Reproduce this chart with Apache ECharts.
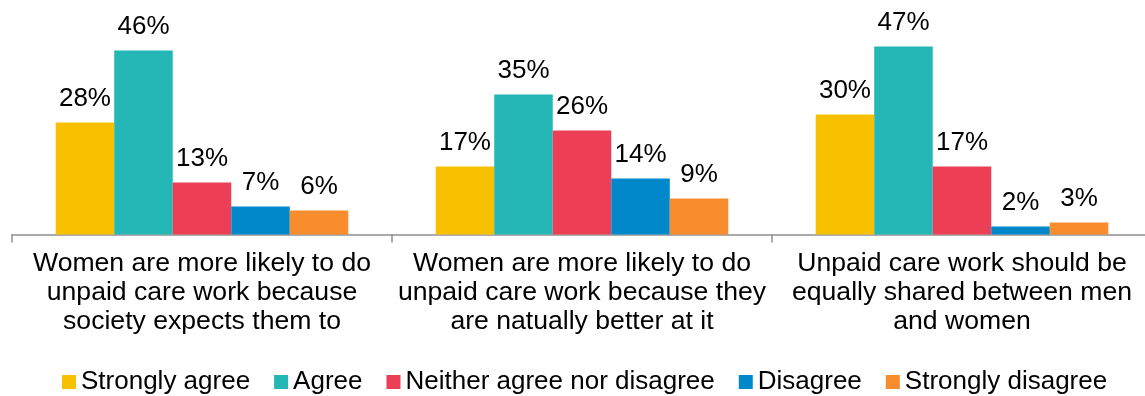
<!DOCTYPE html>
<html>
<head>
<meta charset="utf-8">
<script src="https://cdn.jsdelivr.net/npm/echarts@6/dist/echarts.min.js"></script>
<style>
  html, body { margin: 0; padding: 0; background: #ffffff; overflow: hidden; }
  #chart { width: 1152px; height: 396px; }
</style>
</head>
<body>
<div id="chart"></div>
<script>
// Survey statements (category axis)
const categories = [
  'Women are more likely to do\nunpaid care work because\nsociety expects them to',
  'Women are more likely to do\nunpaid care work because they\nare natually better at it',
  'Unpaid care work should be\nequally shared between men\nand women'
];

// Response shares, percent
const stronglyAgree    = [28, 17, 30];
const agree            = [46, 35, 47];
const neither          = [13, 26, 17];
const disagree         = [7, 14, 2];
const stronglyDisagree = [6, 9, 3];

const seriesNames = ['Strongly agree', 'Agree', 'Neither agree nor disagree', 'Disagree', 'Strongly disagree'];
const seriesData = [stronglyAgree, agree, neither, disagree, stronglyDisagree];
const seriesColors = ['#F8C100', '#25B7B6', '#EC3E55', '#0088CB', '#F88D2E'];

const FONT = '"Liberation Sans", Arial, sans-serif';

const chart = echarts.init(document.getElementById('chart'), null, { renderer: 'canvas' });

chart.setOption({
  animation: false,
  backgroundColor: '#ffffff',
  textStyle: { fontFamily: FONT },
  legend: {
    left: 62,
    top: 369,
    padding: 0,
    itemWidth: 14,
    itemHeight: 14,
    itemGap: 24,
    icon: 'rect',
    textStyle: { fontFamily: FONT, fontSize: 26, color: '#000000' },
    data: seriesNames
  },
  grid: {
    left: 12,
    top: 34.5,
    width: 1140,
    height: 200,
    containLabel: false
  },
  xAxis: {
    type: 'category',
    data: categories,
    axisLine: { show: true, lineStyle: { color: '#8E8E8E', width: 1.5 } },
    axisTick: { show: true, length: 8, lineStyle: { color: '#8E8E8E', width: 1.5 } },
    axisLabel: {
      interval: 0,
      margin: 15,
      fontFamily: FONT,
      fontSize: 26.6,
      lineHeight: 29,
      color: '#000000',
      align: 'center'
    },
    splitLine: { show: false }
  },
  yAxis: {
    type: 'value',
    min: 0,
    max: 50,
    show: false,
    splitLine: { show: false }
  },
  series: seriesNames.map((name, i) => ({
    name: name,
    type: 'bar',
    data: seriesData[i],
    barGap: '0%',
    barCategoryGap: '23%',
    itemStyle: { color: seriesColors[i] },
    label: {
      show: true,
      position: 'top',
      distance: 11,
      formatter: '{c}%',
      fontFamily: FONT,
      fontSize: 26,
      color: '#000000'
    }
  }))
});
</script>
</body>
</html>
